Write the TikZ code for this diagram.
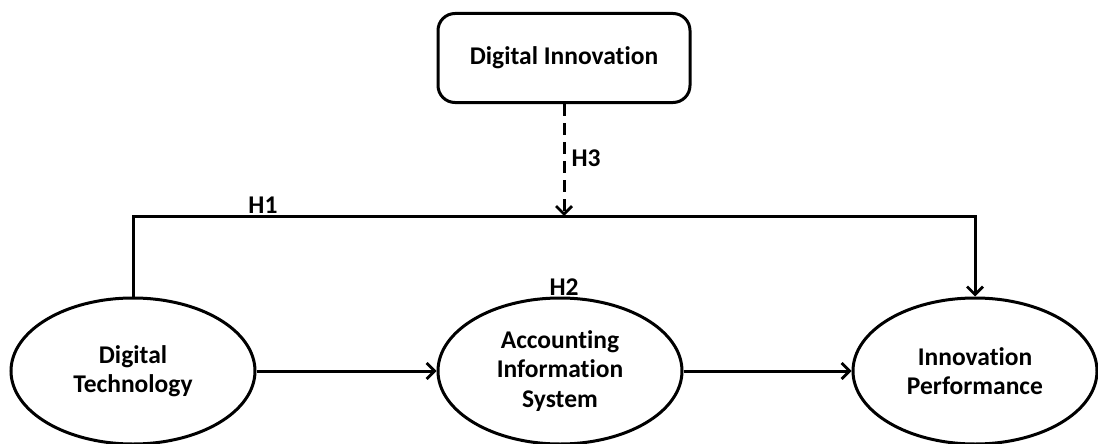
\documentclass[tikz,border=0pt]{standalone}
\usepackage{fontspec}
\setmainfont{Carlito}[Ligatures=NoCommon]
\usetikzlibrary{arrows.meta,shapes.geometric}
\begin{document}
\begin{tikzpicture}[x=1pt,y=1pt,
  every node/.style={font=\fontsize{25.5}{29.5}\selectfont\bfseries, align=center},
  latent/.style={ellipse, draw, line width=3pt, minimum width=244pt, minimum height=146pt, inner sep=0pt},
  dibox/.style={rectangle, rounded corners=17pt, draw, line width=3pt, minimum width=252pt, minimum height=89pt},
  conn/.style={line width=3pt, -{Straight Barb[length=8pt,width=16pt,line width=2.8pt]}},
  lbl/.style={inner sep=0pt}]
\useasboundingbox (0,0) rectangle (1098,-444);
\node[dibox] (DI) at (564,-58) {Digital Innovation};
\node[latent] (DT) at (133,-371) {Digital\\Technology};
\node[latent] (AIS) at (560,-371) {Accounting\\Information\\System};
\node[latent] (IP) at (975,-371) {Innovation\\Performance};
\coordinate (h1) at (564,-216);
\draw[conn] (DT.north) |- (h1) -| (IP.north);
\draw[conn, dash pattern=on 12pt off 7pt] (DI.south) -- (h1);
\draw[conn] (DT.east) -- (AIS.west);
\draw[conn] (AIS.east) -- (IP.west);
\node[lbl] (H1) at (263,-205) {H1};
\node[lbl] (H3) at (586,-158) {H3};
\node[lbl] (H2) at (564,-287) {H2};
\end{tikzpicture}
\end{document}
